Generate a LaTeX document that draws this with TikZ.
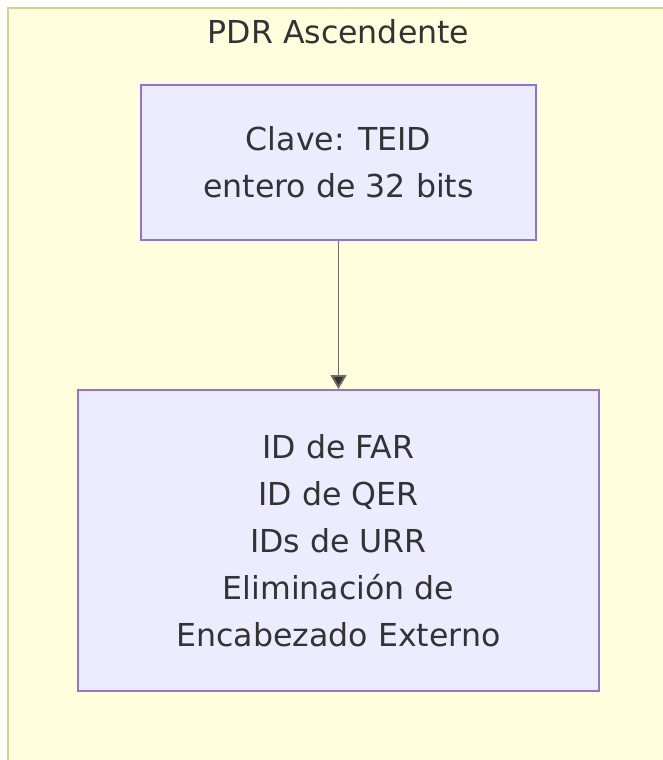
\documentclass[tikz,border=0pt]{standalone}
\usepackage{fontspec}
\setmainfont{DejaVu Sans}
\usetikzlibrary{arrows.meta}
\definecolor{fondpdr}{HTML}{FFFFDE}
\definecolor{bordpdr}{HTML}{D2D28A}
\definecolor{fondnoeud}{HTML}{ECECFF}
\definecolor{bordnoeud}{HTML}{9370DB}
\definecolor{texte}{HTML}{333333}
\definecolor{fleche}{HTML}{6E6E66}

\begin{document}
\begin{tikzpicture}[x=0.75pt,y=-0.75pt,
    every node/.style={font=\fontsize{23.7}{35.25}\selectfont,text=texte},
    boite/.style={draw=bordnoeud,fill=fondnoeud,line width=1.4pt,inner sep=0pt,align=center}]
    \useasboundingbox (0,0) rectangle (662,760);
    \draw[draw=bordpdr,fill=fondpdr,line width=1.6pt] (8,8) rectangle (700,800);
    \node[anchor=base] (pdr) at (338.5,43) {PDR Ascendente};
    \node[boite,minimum width=296.25pt,minimum height=116.25pt] (teid) at (338.5,162.5) {Clave: TEID\\entero de 32 bits};
    \node[boite,minimum width=390.75pt,minimum height=225.75pt] (ids) at (338.5,540.5) {ID de FAR\\ID de QER\\IDs de URR\\Eliminación de\\Encabezado Externo};
    \draw[-{Triangle[width=12pt,length=10.5pt,fill=texte]},draw=fleche,line width=1.4pt] (teid) to (ids);
  \end{tikzpicture}
\end{document}
